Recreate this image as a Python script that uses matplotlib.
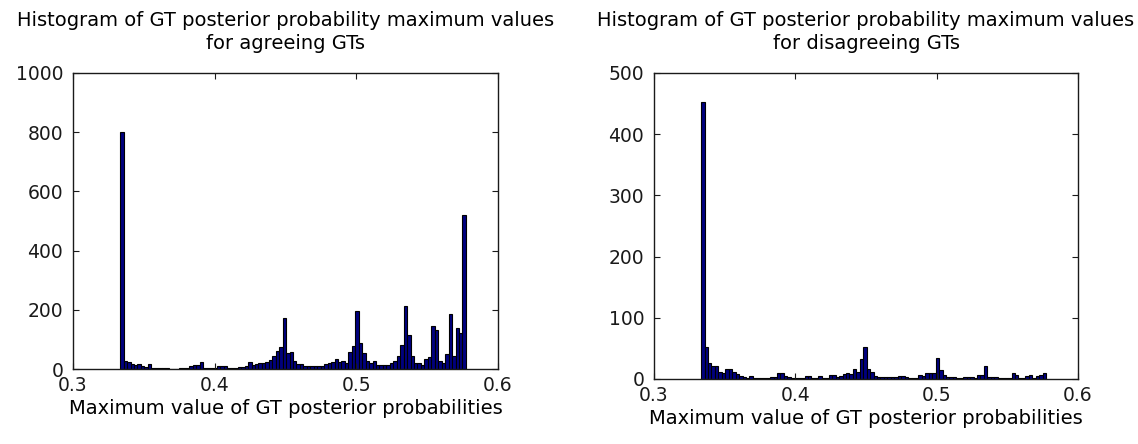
import numpy as np
import matplotlib
matplotlib.use("Agg")
import matplotlib.pyplot as plt

# histogram range: 1/3 .. 1/sqrt(3), 100 bins
BIN_LO = 1.0 / 3.0
BIN_HI = 1.0 / np.sqrt(3.0)
N_BINS = 100

agree_counts = [
    800, 28, 22, 18, 15, 17, 11, 6, 17, 5,
    5, 5, 5, 5, 1, 0, 0, 4, 5, 5,
    9, 13, 15, 22, 5, 5, 5, 5, 9, 10,
    10, 5, 5, 5, 8, 8, 10, 22, 13, 17,
    21, 21, 22, 30, 44, 62, 73, 173, 55, 58,
    28, 17, 17, 9, 9, 9, 9, 9, 10, 16,
    19, 22, 34, 22, 28, 21, 56, 79, 195, 87,
    53, 28, 19, 27, 15, 15, 15, 15, 19, 28,
    45, 80, 214, 115, 45, 20, 20, 15, 34, 39,
    145, 133, 28, 20, 51, 186, 44, 138, 120, 520,
]

disagree_counts = [
    452, 53, 26, 21, 21, 11, 9, 17, 16, 11,
    8, 5, 3, 2, 5, 2, 2, 2, 2, 2,
    4, 4, 9, 9, 5, 4, 2, 2, 2, 2,
    5, 5, 2, 2, 5, 2, 2, 7, 7, 4,
    5, 8, 10, 8, 17, 11, 32, 52, 16, 11,
    5, 3, 3, 3, 3, 3, 3, 5, 5, 3,
    2, 2, 2, 6, 5, 9, 10, 10, 35, 15,
    7, 4, 3, 3, 2, 2, 4, 4, 3, 2,
    7, 7, 21, 4, 4, 4, 2, 2, 2, 2,
    10, 7, 2, 2, 5, 7, 2, 5, 7, 10,
]

titles = [
    "Histogram of GT posterior probability maximum values\nfor agreeing GTs",
    "Histogram of GT posterior probability maximum values\nfor disagreeing GTs",
]
xlabel = "Maximum value of GT posterior probabilities"
xticks = [0.3, 0.4, 0.5, 0.6]
yticks_agree = [0, 200, 400, 600, 800, 1000]
yticks_disagree = [0, 100, 200, 300, 400, 500]

FS_TICK = 13.5
FS_TEXT = 14
plt.rcParams["font.family"] = ["DejaVu Sans"]

fig = plt.figure(figsize=(11.38, 4.44), dpi=100)
fig.patch.set_facecolor("white")

ax1 = fig.add_axes([0.0641, 0.1689, 0.3735, 0.6667])
ax2 = fig.add_axes([0.5747, 0.1464, 0.3726, 0.6892])

edges = np.linspace(BIN_LO, BIN_HI, N_BINS + 1)

panels = [
    (ax1, agree_counts, titles[0], yticks_agree),
    (ax2, disagree_counts, titles[1], yticks_disagree),
]

for ax, counts, title, yticks in panels:
    ax.bar(edges[:-1], counts, width=np.diff(edges), align="edge",
           color="#00007f", edgecolor="black", linewidth=0.8)
    ax.set_xlim(0.3, 0.6)
    ax.set_ylim(yticks[0], yticks[-1])
    ax.set_xticks(xticks)
    ax.set_xticklabels([f"{t:g}" for t in xticks])
    ax.set_yticks(yticks)
    ax.tick_params(direction="in", top=True, right=True, length=4,
                   width=0.8, labelsize=FS_TICK, colors="#1a1a1a")
    ax.tick_params(axis="y", pad=7)
    ax.tick_params(axis="x", pad=5)
    for sp in ax.spines.values():
        sp.set_linewidth(1.0)
        sp.set_color("#1a1a1a")
    ax.set_title(title, fontsize=FS_TEXT, pad=17, linespacing=1.3)
    ax.set_xlabel(xlabel, fontsize=FS_TEXT, labelpad=3)

plt.savefig("out.png", dpi=100, facecolor="white")
